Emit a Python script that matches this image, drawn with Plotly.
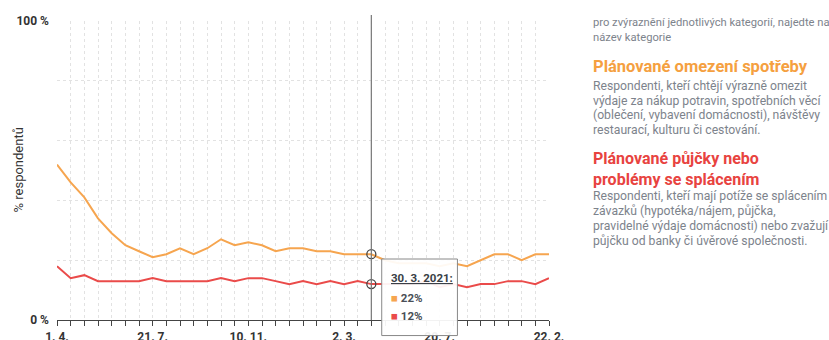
import plotly.graph_objects as go

# ---- data ----
n_points = 37
x_idx = list(range(n_points))
tick_positions = [0, 7, 14, 21, 28, 36]
tick_labels = ["1. 4.", "21. 7.", "10. 11.", "2. 3.", "20. 7.", "22. 2."]

omezeni_spotreby = [52, 46, 41, 34, 29, 25, 23, 21, 22, 24, 22, 24, 27, 25, 26, 25,
                    23, 24, 24, 23, 23, 22, 22, 22, 20, 19, 19, 19, 18, 19, 18, 20,
                    22, 22, 20, 22, 22]
pujcky_splaceni = [18, 14, 15, 13, 13, 13, 13, 14, 13, 13, 13, 13, 14, 13, 14, 14,
                   13, 12, 13, 12, 13, 12, 13, 12, 12, 12, 12, 13, 11, 12, 11, 12,
                   12, 13, 13, 12, 14]

hover_index = 23
hover_date = "30. 3. 2021:"

ORANGE = "#f6a54f"
RED = "#ea4b4a"
FONT = "Roboto"

fig = go.Figure()
fig.add_trace(go.Scatter(x=x_idx, y=omezeni_spotreby, mode="lines",
                         line=dict(color=ORANGE, width=2), hoverinfo="skip"))
fig.add_trace(go.Scatter(x=x_idx, y=pujcky_splaceni, mode="lines",
                         line=dict(color=RED, width=2), hoverinfo="skip"))

# hover crosshair + circles
fig.add_shape(type="line", xref="x", yref="paper", x0=hover_index, x1=hover_index,
              y0=0, y1=1.02, line=dict(color="#777777", width=1.2))
fig.add_trace(go.Scatter(x=[hover_index, hover_index],
                         y=[omezeni_spotreby[hover_index], pujcky_splaceni[hover_index]],
                         mode="markers",
                         marker=dict(symbol="circle-open", size=9,
                                     line=dict(color="#444444", width=1.3), color="#444444"),
                         hoverinfo="skip"))

# tooltip box
fig.add_shape(type="rect", xref="x", yref="paper", x0=hover_index + 0.76, x1=hover_index + 6.3,
              y0=-0.052, y1=0.204, fillcolor="rgba(255,255,255,0.93)",
              line=dict(color="#888888", width=1), layer="above")
fig.add_annotation(xref="x", yref="paper", x=hover_index + 1.3, y=0.14, xanchor="left",
                   yanchor="middle", showarrow=False,
                   text="<b><u>" + hover_date + "</u></b>",
                   font=dict(family=FONT, size=11.5, color="#3a3f47"))
fig.add_annotation(xref="x", yref="paper", x=hover_index + 1.3, y=0.073, xanchor="left",
                   yanchor="middle", showarrow=False,
                   text="<span style='color:%s'>■</span> <b>%d%%</b>" % (ORANGE, omezeni_spotreby[hover_index]),
                   font=dict(family=FONT, size=11.5, color="#4a4f57"))
fig.add_annotation(xref="x", yref="paper", x=hover_index + 1.3, y=0.013, xanchor="left",
                   yanchor="middle", showarrow=False,
                   text="<span style='color:%s'>■</span> <b>%d%%</b>" % (RED, pujcky_splaceni[hover_index]),
                   font=dict(family=FONT, size=11.5, color="#4a4f57"))

# y axis title as annotation
fig.add_annotation(xref="paper", yref="paper", x=(18 - 57) / 492.0, y=0.5, textangle=-90,
                   xanchor="center", yanchor="middle", showarrow=False,
                   text="% respondentů", font=dict(family=FONT, size=13, color="#333333"))

# right side texts
def ypx(p):
    return (320 - p) / 299.0

XT = (591 - 57) / 492.0
GRAY = "#7d838c"
side = [
    ("pro zvýraznění jednotlivých kategorií, najedte na", 22, 11.2, GRAY, False),
    ("název kategorie", 38, 11.2, GRAY, False),
    ("Plánované omezení spotřeby", 66, 16.5, "#f5a040", True),
    ("Respondenti, kteří chtějí výrazně omezit", 86, 12.2, GRAY, False),
    ("výdaje za nákup potravin, spotřebních věcí", 100.5, 12.2, GRAY, False),
    ("(oblečení, vybavení domácnosti), návštěvy", 115, 12.2, GRAY, False),
    ("restaurací, kulturu či cestování.", 129.5, 12.2, GRAY, False),
    ("Plánované půjčky nebo<br>problémy se splácením", 169, 16, "#e8433f", True),
    ("Respondenti, kteří mají potíže se splácením", 196, 12.2, GRAY, False),
    ("závazků (hypotéka/nájem, půjčka,", 211, 12.2, GRAY, False),
    ("pravidelné výdaje domácnosti) nebo zvažují", 226, 12.2, GRAY, False),
    ("půjčku od banky či úvěrové společnosti.", 241, 12.2, GRAY, False),
]
for txt, yp, fs, col, bold in side:
    fig.add_annotation(xref="paper", yref="paper", x=XT, y=ypx(yp), xanchor="left",
                       yanchor="middle", showarrow=False, align="left",
                       text=("<b>%s</b>" % txt) if bold else txt,
                       font=dict(family=FONT, size=fs, color=col))

fig.update_layout(
    width=829, height=340,
    margin=dict(l=57, r=280, t=21, b=20),
    plot_bgcolor="white", paper_bgcolor="white",
    showlegend=False,
    font=dict(family=FONT, color="#333333"),
    xaxis=dict(range=[0, n_points - 1], tickmode="array", tickvals=x_idx,
               ticktext=[tick_labels[tick_positions.index(i)] if i in tick_positions else "" for i in x_idx],
               ticks="outside", ticklen=5, tickcolor="#444444", tickwidth=1,
               showline=True, linecolor="#444444", linewidth=1,
               showgrid=True, gridcolor="#e2e2e2", griddash="dot", gridwidth=1,
               tickfont=dict(family=FONT, size=12, color="#333333", weight="bold"),
               ticklabelstandoff=1,
               zeroline=False, fixedrange=True, automargin=False),
    yaxis=dict(range=[0, 100], tickmode="array", tickvals=[0, 20, 40, 60, 80, 100],
               ticktext=["0 %", "", "", "", "", "100 %"],
               showgrid=True, gridcolor="#e2e2e2", griddash="dot", gridwidth=1,
               zeroline=False, showline=False, ticks="",
               tickfont=dict(family=FONT, size=12, color="#333333", weight="bold"),
               ticklabelstandoff=7,
               fixedrange=True, automargin=False),
)

fig.write_html("out.html", post_script="document.body.style.margin='0px';",
               config={"displayModeBar": False})
